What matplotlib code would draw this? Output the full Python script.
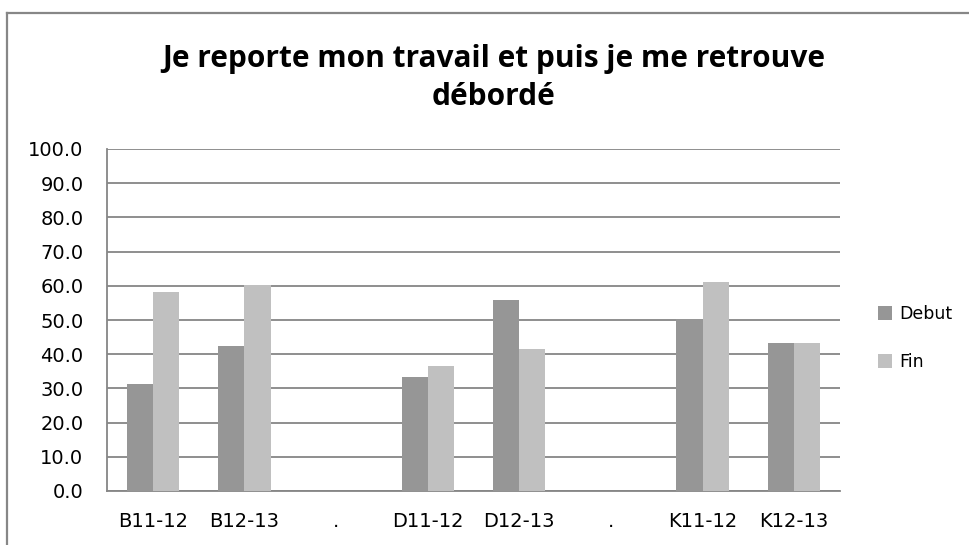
import numpy as np
import matplotlib
matplotlib.use("Agg")
import matplotlib.pyplot as plt
from matplotlib.lines import Line2D

# --- data ---
categories = ["B11-12", "B12-13", ".", "D11-12", "D12-13", ".", "K11-12", "K12-13"]
debut = [31.2, 42.5, np.nan, 33.4, 55.8, np.nan, 50.4, 43.2]
fin = [58.1, 60.3, np.nan, 36.5, 41.4, np.nan, 61.2, 43.2]
y_ticks = [0, 10, 20, 30, 40, 50, 60, 70, 80, 90, 100]

plt.rcParams["font.family"] = ["DejaVu Sans"]

W, H = 970, 545
fig = plt.figure(figsize=(W / 100, H / 100), dpi=100)
ax = fig.add_axes([107 / W, 1 - 491 / H, (840 - 107) / W, (491 - 149) / H])

x = np.arange(len(categories))
w = 0.285
ax.bar(x - w / 2, debut, w, color="#969696", label="Debut", zorder=3)
ax.bar(x + w / 2, fin, w, color="#c0c0c0", label="Fin", zorder=3)

ax.set_xlim(-0.5, len(categories) - 0.5)
ax.set_ylim(0, 100)
ax.set_yticks(y_ticks)
ax.set_yticklabels([f"{v:.1f}" for v in y_ticks], fontsize=14)
ax.set_xticks(x)
ax.set_xticklabels(categories, fontsize=14)
ax.tick_params(axis="y", length=0, pad=17)
ax.tick_params(axis="x", length=0, pad=15)

for v in y_ticks:
    ax.axhline(v, color="#868686", lw=1.3, zorder=1)
for s in ["top", "right"]:
    ax.spines[s].set_visible(False)
ax.spines["left"].set_color("#868686")
ax.spines["bottom"].set_color("#868686")
ax.spines["left"].set_linewidth(1.3)
ax.spines["bottom"].set_linewidth(1.3)

ax.legend(loc="center left", bbox_to_anchor=(862 / W, 1 - 338 / H),
          bbox_transform=fig.transFigure, frameon=False, fontsize=12.5,
          handlelength=0.85, handleheight=0.85, handletextpad=0.4,
          labelspacing=1.7)

fig.text(494 / W, 1 - 78 / H, "Je reporte mon travail et puis je me retrouve\ndébordé",
         ha="center", va="center", fontsize=21.5, fontweight="bold",
         family=["Open Sans", "DejaVu Sans"], linespacing=1.35)

# chart frame (only top and left edges visible in the crop)
fig.add_artist(Line2D([7.5 / W, 1], [1 - 12.5 / H, 1 - 12.5 / H], color="#878787", lw=1.6,
                      transform=fig.transFigure))
fig.add_artist(Line2D([7.5 / W, 7.5 / W], [0, 1 - 12.5 / H], color="#878787", lw=1.6,
                      transform=fig.transFigure))

fig.savefig("out.png", dpi=100)
